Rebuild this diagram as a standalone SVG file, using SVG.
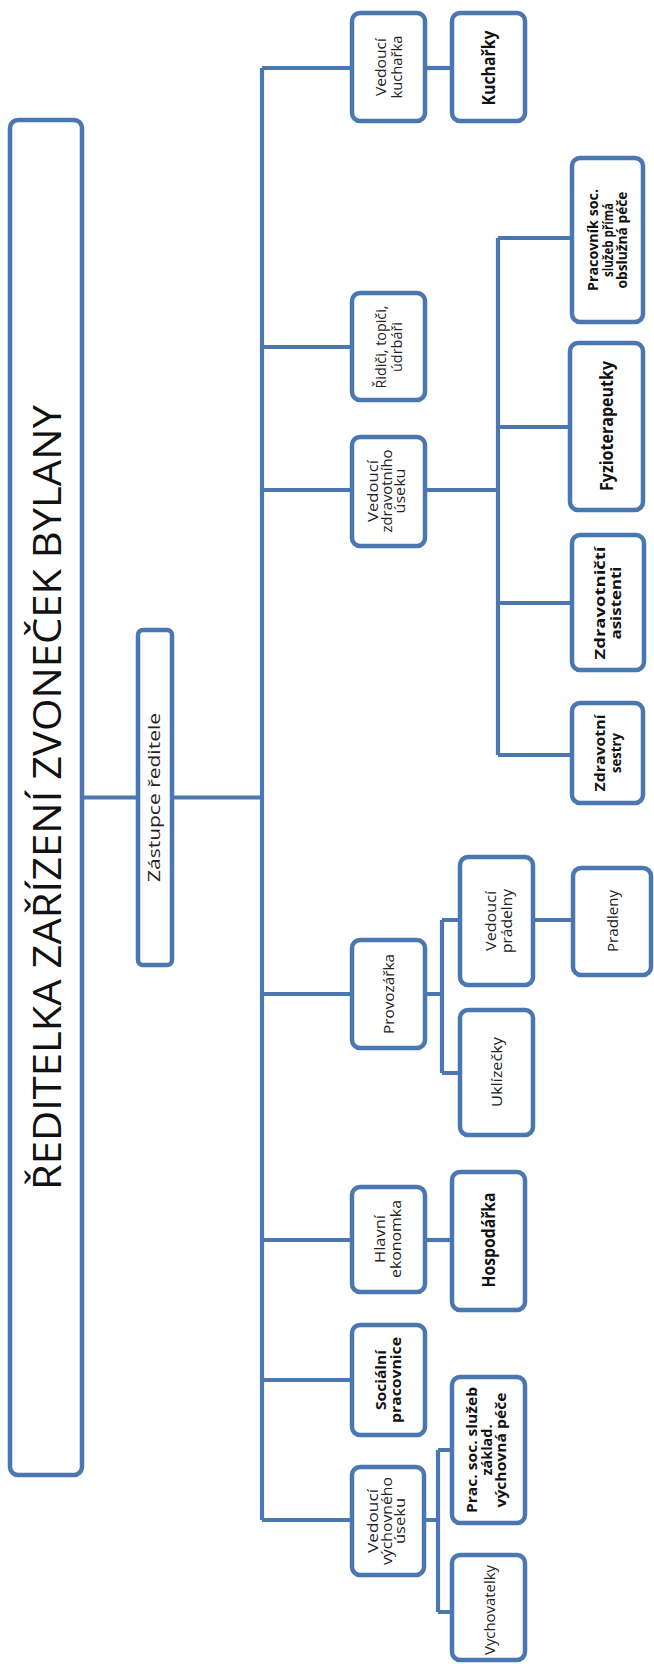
<svg xmlns="http://www.w3.org/2000/svg" width="654" height="1664" viewBox="0 0 654 1664">
<style>
.bx{fill:#fff;stroke:#4b77b1;stroke-width:4.5}
.ln{fill:none;stroke:#4b77b1;stroke-width:4.2;stroke-linecap:butt}
text{font-family:"Open Sans","Liberation Sans",sans-serif;text-anchor:middle;fill:#222}
.r{font-size:15px}
.r3{font-size:14px}
.b{font-size:15px;font-weight:bold;fill:#111}
.b3{font-size:14.5px;font-weight:bold;fill:#111}
.b1{font-size:17px;font-weight:bold;fill:#111}
</style>
<rect width="654" height="1664" fill="#fff"/>
<g id="connectors">
<path class="ln" d="M82 797.5H138M172 797.5H262M262 68V1520"/>
<path class="ln" d="M262 68H352M262 347H352M262 490H352M262 994H352M262 1240H352M262 1380H352M262 1520H352"/>
<path class="ln" d="M425 68H452"/>
<path class="ln" d="M425 490H498M498 238V755M498 238H572M498 427H570M498 603H572M498 755H572"/>
<path class="ln" d="M425 994H442M442 920V1073M442 920H460M442 1073H460M533 920H573"/>
<path class="ln" d="M425 1240H452"/>
<path class="ln" d="M425 1520H438M438 1450V1612M438 1450H452M438 1612H452"/>
</g>
<g id="n-reditelka">
<rect class="bx" x="10" y="120" width="72" height="1355" rx="8"/>
<text transform="translate(61,797.5) rotate(-90)" style="font-size:39px;fill:#111" textLength="785" lengthAdjust="spacingAndGlyphs">ŘEDITELKA ZAŘÍZENÍ ZVONEČEK BYLANY</text>
</g>
<g id="n-zastupce">
<rect class="bx" x="138" y="630" width="34" height="335" rx="5"/>
<text transform="translate(160,797.5) rotate(-90)" style="font-size:16.5px" textLength="169" lengthAdjust="spacingAndGlyphs">Zástupce ředitele</text>
</g>
<g id="n-ved-kucharka">
<rect class="bx" x="352" y="13" width="73" height="108" rx="8"/>
<text class="r" transform="translate(386,67) rotate(-90)" textLength="58" lengthAdjust="spacingAndGlyphs">Vedoucí</text>
<text class="r" transform="translate(402,67) rotate(-90)" textLength="63" lengthAdjust="spacingAndGlyphs">kuchařka</text>
</g>
<g id="n-kucharky">
<rect class="bx" x="452" y="13" width="73" height="108" rx="8"/>
<text class="b1" transform="translate(495,68) rotate(-90)" textLength="75" lengthAdjust="spacingAndGlyphs">Kuchařky</text>
</g>
<g id="n-ridici">
<rect class="bx" x="352" y="293" width="73" height="107" rx="8"/>
<text class="r" transform="translate(386,347) rotate(-90)" textLength="83" lengthAdjust="spacingAndGlyphs">Řidiči, topiči,</text>
<text class="r" transform="translate(402,347) rotate(-90)" textLength="50" lengthAdjust="spacingAndGlyphs">údrbáři</text>
</g>
<g id="n-ved-zdravotni">
<rect class="bx" x="352" y="437" width="73" height="109" rx="8"/>
<text class="r3" transform="translate(378,491) rotate(-90)" textLength="62" lengthAdjust="spacingAndGlyphs">Vedoucí</text>
<text class="r3" transform="translate(391.5,491) rotate(-90)" textLength="83" lengthAdjust="spacingAndGlyphs">zdravotního</text>
<text class="r3" transform="translate(405,491) rotate(-90)" textLength="45" lengthAdjust="spacingAndGlyphs">úseku</text>
</g>
<g id="n-pracovnik-soc">
<rect class="bx" x="572" y="158" width="71" height="164" rx="8"/>
<text class="b3" transform="translate(598,240) rotate(-90)" textLength="102" lengthAdjust="spacingAndGlyphs">Pracovník soc.</text>
<text class="b3" transform="translate(612.5,240) rotate(-90)" textLength="74" lengthAdjust="spacingAndGlyphs">služeb přímá</text>
<text class="b3" transform="translate(627,240) rotate(-90)" textLength="97" lengthAdjust="spacingAndGlyphs">obslužná péče</text>
</g>
<g id="n-fyzio">
<rect class="bx" x="570" y="343" width="73" height="167" rx="8"/>
<text class="b1" transform="translate(613,426) rotate(-90)" textLength="130" lengthAdjust="spacingAndGlyphs">Fyzioterapeutky</text>
</g>
<g id="n-zdrav-asist">
<rect class="bx" x="572" y="535" width="72" height="135" rx="8"/>
<text class="b" transform="translate(605,603) rotate(-90)" textLength="113" lengthAdjust="spacingAndGlyphs">Zdravotničtí</text>
<text class="b" transform="translate(621,603) rotate(-90)" textLength="73" lengthAdjust="spacingAndGlyphs">asistenti</text>
</g>
<g id="n-zdrav-sestry">
<rect class="bx" x="572" y="703" width="71" height="100" rx="8"/>
<text class="b" transform="translate(605,753) rotate(-90)" textLength="77" lengthAdjust="spacingAndGlyphs">Zdravotní</text>
<text class="b" transform="translate(621,753) rotate(-90)" textLength="40" lengthAdjust="spacingAndGlyphs">sestry</text>
</g>
<g id="n-provozarka">
<rect class="bx" x="352" y="940" width="73" height="108" rx="8"/>
<text class="r" transform="translate(394,994) rotate(-90)" textLength="80" lengthAdjust="spacingAndGlyphs">Provozářka</text>
</g>
<g id="n-ved-pradelny">
<rect class="bx" x="460" y="857" width="73" height="128" rx="8"/>
<text class="r" transform="translate(496,921) rotate(-90)" textLength="60" lengthAdjust="spacingAndGlyphs">Vedoucí</text>
<text class="r" transform="translate(512,921) rotate(-90)" textLength="64" lengthAdjust="spacingAndGlyphs">prádelny</text>
</g>
<g id="n-pradleny">
<rect class="bx" x="573" y="868" width="78" height="107" rx="8"/>
<text class="r" transform="translate(618,921) rotate(-90)" textLength="62" lengthAdjust="spacingAndGlyphs">Pradleny</text>
</g>
<g id="n-uklizecky">
<rect class="bx" x="460" y="1010" width="73" height="125" rx="8"/>
<text class="r" transform="translate(502,1072) rotate(-90)" textLength="70" lengthAdjust="spacingAndGlyphs">Uklízečky</text>
</g>
<g id="n-hl-ekonomka">
<rect class="bx" x="352" y="1187" width="73" height="105" rx="8"/>
<text class="r" transform="translate(385,1239) rotate(-90)" textLength="48" lengthAdjust="spacingAndGlyphs">Hlavní</text>
<text class="r" transform="translate(401,1239) rotate(-90)" textLength="78" lengthAdjust="spacingAndGlyphs">ekonomka</text>
</g>
<g id="n-hospodarka">
<rect class="bx" x="452" y="1172" width="73" height="138" rx="8"/>
<text class="b1" transform="translate(495,1240) rotate(-90)" textLength="95" lengthAdjust="spacingAndGlyphs">Hospodářka</text>
</g>
<g id="n-socialni">
<rect class="bx" x="352" y="1325" width="73" height="110" rx="8"/>
<text class="b" transform="translate(386,1380) rotate(-90)" textLength="60" lengthAdjust="spacingAndGlyphs">Sociální</text>
<text class="b" transform="translate(401,1380) rotate(-90)" textLength="86" lengthAdjust="spacingAndGlyphs">pracovnice</text>
</g>
<g id="n-ved-vychovny">
<rect class="bx" x="352" y="1467" width="72" height="108" rx="8"/>
<text class="r3" transform="translate(378,1521) rotate(-90)" textLength="64" lengthAdjust="spacingAndGlyphs">Vedoucí</text>
<text class="r3" transform="translate(391.5,1521) rotate(-90)" textLength="88" lengthAdjust="spacingAndGlyphs">výchovného</text>
<text class="r3" transform="translate(405,1521) rotate(-90)" textLength="46" lengthAdjust="spacingAndGlyphs">úseku</text>
</g>
<g id="n-prac-soc-vych">
<rect class="bx" x="452" y="1377" width="73" height="146" rx="8"/>
<text class="b3" transform="translate(477,1450) rotate(-90)" textLength="126" lengthAdjust="spacingAndGlyphs">Prac. soc. služeb</text>
<text class="b3" transform="translate(491.5,1450) rotate(-90)" textLength="51" lengthAdjust="spacingAndGlyphs">základ.</text>
<text class="b3" transform="translate(506,1450) rotate(-90)" textLength="115" lengthAdjust="spacingAndGlyphs">výchovná péče</text>
</g>
<g id="n-vychovatelky">
<rect class="bx" x="452" y="1555" width="73" height="105" rx="8"/>
<text class="r" transform="translate(495,1610) rotate(-90)" textLength="90" lengthAdjust="spacingAndGlyphs">Vychovatelky</text>
</g>
</svg>
